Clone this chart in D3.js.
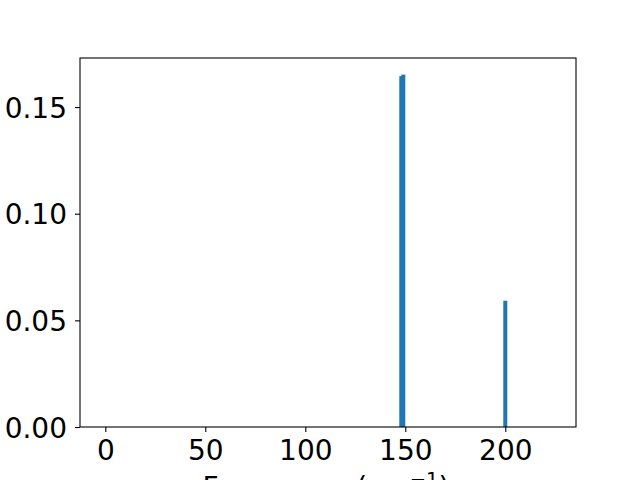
<!DOCTYPE html>
<html>
<head>
<meta charset="utf-8">
<script src="https://cdn.jsdelivr.net/npm/d3@7"></script>
<style>
  body { margin: 0; background: #fff; }
  text { font-family: "DejaVu Sans", sans-serif; }
</style>
</head>
<body>
<svg id="plot"></svg>
<script>
// Spectrum lines (frequency in cm^-1, intensity)
var frequencies = [148, 149, 200];
var intensities = [0.1645, 0.1652, 0.0592];
var xTicks = [0, 50, 100, 150, 200];
var yTicks = [0.00, 0.05, 0.10, 0.15];

var data = frequencies.map((f, i) => ({freq: f, value: intensities[i]}));

var width = 640, height = 480;
var margin = {top: 58, right: 64, bottom: 53, left: 80};

var svg = d3.select('#plot')
  .attr('width', width)
  .attr('height', height);

// Scales
var xScale = d3.scaleLinear()
  .domain([-12.65, 235.35])
  .range([margin.left, width - margin.right]);

var yScale = d3.scaleLinear()
  .domain([0, 0.173])
  .range([height - margin.bottom, margin.top]);

var barWidth = xScale(2) - xScale(0);

// Bars
svg.selectAll('.bar')
  .data(data)
  .enter().append('rect')
    .attr('class', 'bar')
    .attr('x', d => xScale(d.freq) - barWidth / 2)
    .attr('y', d => yScale(d.value))
    .attr('width', barWidth)
    .attr('height', d => yScale(0) - yScale(d.value))
    .attr('fill', '#1f77b4');

// X axis
var xAxis = svg.append('g')
  .attr('transform', 'translate(0,' + (height - margin.bottom) + ')')
  .call(d3.axisBottom(xScale).tickValues(xTicks).tickSize(5).tickPadding(8));

// Y axis
var yAxis = svg.append('g')
  .attr('transform', 'translate(' + margin.left + ',0)')
  .call(d3.axisLeft(yScale).tickValues(yTicks).tickSize(5).tickPadding(8).tickFormat(d3.format('.2f')));

[xAxis, yAxis].forEach(function(ax) {
  ax.attr('font-size', null).attr('font-family', null);
  ax.select('.domain').remove();
  ax.selectAll('line').attr('stroke', '#000').attr('stroke-width', 1.1);
  ax.selectAll('text')
    .attr('fill', '#000')
    .style('font-family', '"DejaVu Sans", sans-serif')
    .style('font-size', '28px');
});
xAxis.selectAll('text').attr('dy', '0.71em');
yAxis.selectAll('text').attr('dy', '0.36em');

// Frame
svg.append('rect')
  .attr('x', margin.left)
  .attr('y', margin.top)
  .attr('width', width - margin.left - margin.right)
  .attr('height', height - margin.top - margin.bottom)
  .attr('fill', 'none')
  .attr('stroke', '#000')
  .attr('stroke-width', 1.1);

// X axis label (cut off by the bottom edge, as in the original figure)
var xlabel = svg.append('text')
  .attr('x', 326)
  .attr('y', 497)
  .attr('text-anchor', 'middle')
  .style('font-size', '28px')
  .attr('fill', '#000');
xlabel.append('tspan').text('Frequency (cm');
xlabel.append('tspan').attr('dy', '-11').style('font-size', '19.5px').text('\u22121');
xlabel.append('tspan').attr('dy', '11').text(')');
</script>
</body>
</html>
